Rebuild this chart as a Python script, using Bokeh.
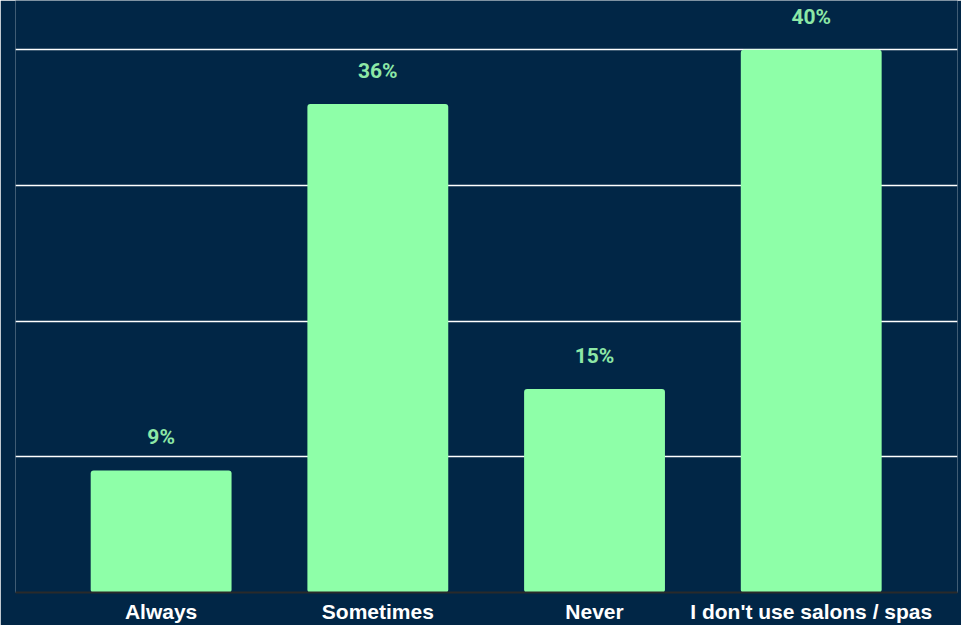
from bokeh.plotting import figure
from bokeh.models import ColumnDataSource, Range1d, FixedTicker, LabelSet
from bokeh.core.properties import value
from bokeh.embed import file_html
from bokeh.resources import INLINE

categories = ["Always", "Sometimes", "Never", "I don't use salons / spas"]
values = [9, 36, 15, 40]
labels = ["9%", "36%", "15%", "40%"]
grid_ticks = [10, 20, 30, 40]

BG = "#012646"
BAR = "#8effa8"
LBL = "#8de8a6"

xs = list(range(len(categories)))
src = ColumnDataSource(dict(x=xs, top=values, lab=labels))

p = figure(width=961, height=625, output_backend="svg", toolbar_location=None,
           x_range=Range1d(-0.672, 3.675), y_range=Range1d(0, 43.63),
           min_border_left=15, min_border_right=4, min_border_top=0, min_border_bottom=0)
p.background_fill_color = BG
p.border_fill_color = BG
p.outline_line_color = None

p.vbar(x="x", top="top", width=0.65, source=src, fill_color=BAR, line_color=None,
       border_radius=3)

p.add_layout(LabelSet(x="x", y="top", text="lab", source=src, y_offset=33,
                      text_align="center", text_baseline="middle",
                      text_color=LBL, text_font=value("Roboto"), text_font_style="bold",
                      text_font_size="21px"))

p.yaxis.visible = False
p.xgrid.grid_line_color = None
p.ygrid.ticker = FixedTicker(ticks=grid_ticks)
p.ygrid.grid_line_color = "white"
p.ygrid.grid_line_width = 1.3

p.xaxis.ticker = FixedTicker(ticks=xs)
p.xaxis.major_label_overrides = {i: c for i, c in enumerate(categories)}
p.xaxis.major_tick_line_color = None
p.xaxis.major_tick_out = 0
p.xaxis.major_tick_in = 0
p.xaxis.minor_tick_line_color = None
p.xaxis.axis_line_color = "#2a2a2a"
p.xaxis.axis_line_width = 2
p.xaxis.major_label_standoff = 7
p.xaxis.major_label_text_color = "white"
p.xaxis.major_label_text_font = "Liberation Sans"
p.xaxis.major_label_text_font_style = "bold"
p.xaxis.major_label_text_font_size = "21px"

open("out.html", "w").write(file_html(p, INLINE))
